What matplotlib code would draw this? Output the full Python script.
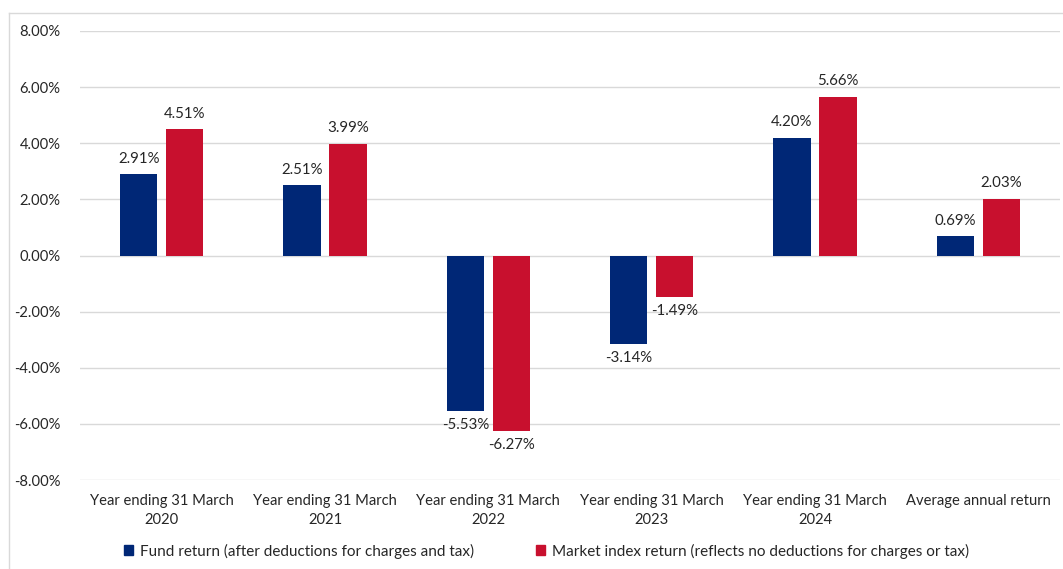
import matplotlib
matplotlib.use("Agg")
import matplotlib.pyplot as plt
import numpy as np
from matplotlib.patches import Rectangle
from matplotlib.lines import Line2D

categories = ["Year ending 31 March\n2020", "Year ending 31 March\n2021",
              "Year ending 31 March\n2022", "Year ending 31 March\n2023",
              "Year ending 31 March\n2024", "Average annual return"]
fund = [2.91, 2.51, -5.53, -3.14, 4.20, 0.69]
market = [4.51, 3.99, -6.27, -1.49, 5.66, 2.03]
series_names = ["Fund return (after deductions for charges and tax)",
                "Market index return (reflects no deductions for charges or tax)"]
yticks = [-8, -6, -4, -2, 0, 2, 4, 6, 8]

blue = "#002776"
red = "#C8102E"
grid = "#D9D9D9"
txt = "#262626"

plt.rcParams['font.family'] = ['Lato', 'DejaVu Sans']

W, H = 1063, 569
fig = plt.figure(figsize=(W/100, H/100), dpi=100)
ax = fig.add_axes([80/W, 1-480/H, (1060-80)/W, (480-31)/H])

x = np.arange(len(categories))
bw = 0.227
off = 0.141
b1 = ax.bar(x - off, fund, bw, color=blue, zorder=3)
b2 = ax.bar(x + off, market, bw, color=red, zorder=3)

for bars, vals in ((b1, fund), (b2, market)):
    for r, v in zip(bars, vals):
        cx = r.get_x() + r.get_width()/2
        if v >= 0:
            ax.annotate(f"{v:.2f}%", (cx, v), xytext=(0, 6), textcoords="offset points",
                        ha="center", va="bottom", fontsize=10.8, color=txt)
        else:
            ax.annotate(f"{v:.2f}%", (cx, v), xytext=(0, -5), textcoords="offset points",
                        ha="center", va="top", fontsize=10.8, color=txt)

ax.set_ylim(-8, 8)
ax.set_xlim(-0.5, len(categories) - 0.5)
ax.set_yticks(yticks)
ax.set_yticklabels([f"{t:.2f}%" for t in yticks], fontsize=10.6, color=txt)
ax.set_xticks(x)
ax.set_xticklabels(categories, fontsize=10.6, color=txt, linespacing=1.5)
ax.tick_params(axis='both', length=0)
ax.tick_params(axis='y', pad=14)
ax.tick_params(axis='x', pad=10)
ax.grid(axis='y', color=grid, linewidth=1, zorder=0)
for s in ax.spines.values():
    s.set_visible(False)

handles = [Rectangle((0, 0), 1, 1, color=blue), Rectangle((0, 0), 1, 1, color=red)]
fig.legend(handles, series_names, loc='center', bbox_to_anchor=(546.5/W, 1-551/H),
           ncol=2, frameon=False, fontsize=11, handlelength=0.6, handleheight=0.6,
           handletextpad=0.4, columnspacing=4.1, labelcolor=txt)

fig.add_artist(Line2D([9/W, 9/W], [0, 1-13/H], color=grid, lw=1, transform=fig.transFigure))
fig.add_artist(Line2D([9/W, 1], [1-13/H, 1-13/H], color=grid, lw=1, transform=fig.transFigure))

fig.savefig("out.png", dpi=100)
